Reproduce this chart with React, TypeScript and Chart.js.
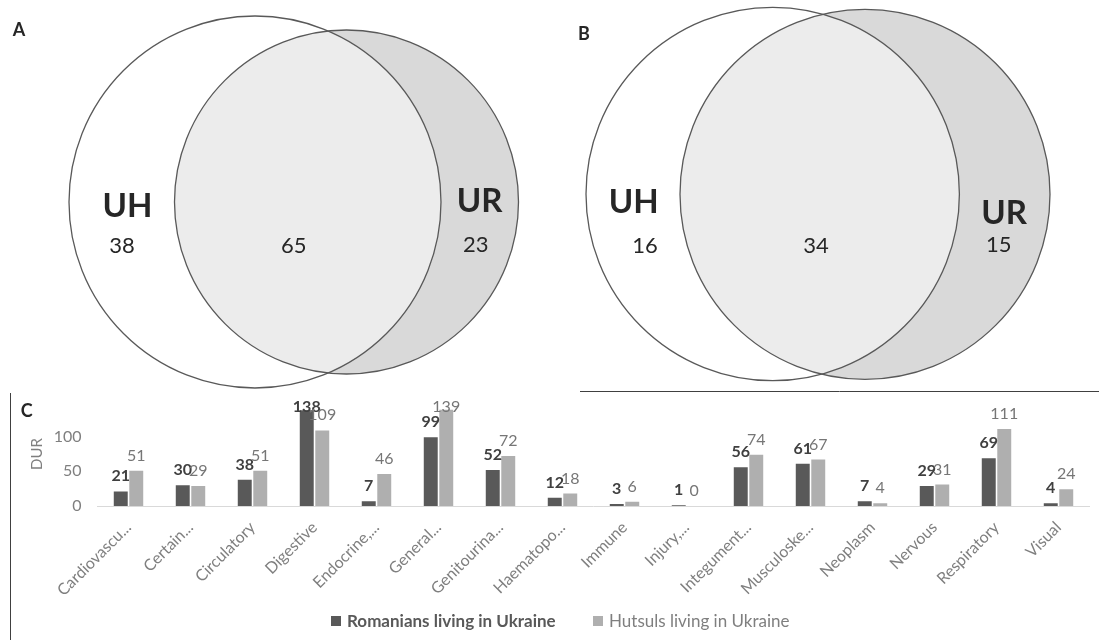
import React, { useEffect, useRef } from 'react';
import { Chart, registerables } from 'chart.js';

Chart.register(...registerables);

const FONT = 'Lato, "Open Sans", "DejaVu Sans", sans-serif';

// ---------- Panel C data ----------
const categories = [
  'Cardiovascu...', 'Certain...', 'Circulatory', 'Digestive', 'Endocrine,...', 'General...',
  'Genitourina...', 'Haematopo...', 'Immune', 'Injury,...', 'Integument...', 'Musculoske...',
  'Neoplasm', 'Nervous', 'Respiratory', 'Visual',
];
const seriesNames = ['Romanians living in Ukraine', 'Hutsuls living in Ukraine'];
const romaniansDUR = [21, 30, 38, 138, 7, 99, 52, 12, 3, 1, 56, 61, 7, 29, 69, 4];
const hutsulsDUR = [51, 29, 51, 109, 46, 139, 72, 18, 6, 0, 74, 67, 4, 31, 111, 24];
const yTickValues = [0, 50, 100];
const yAxisTitle = 'DUR';

// ---------- Panels A & B data ----------
const panelLetters = ['A', 'B', 'C'];
const setNames = ['UH', 'UR'];
const vennACounts = [38, 65, 23]; // UH only, shared, UR only
const vennBCounts = [16, 34, 15];
const vennCounts = [vennACounts, vennBCounts];

// ---------- layout (positions / sizes, not data) ----------
const W = 1099;
const VENN_H = 392;
const BAR_H = 640 - VENN_H;
const vennLayout = [
  {
    letter: { x: 19, y: 30 },
    uh: { x: 255, y: 202, r: 186 },
    ur: { x: 346.5, y: 202, r: 172 },
    nameUH: { x: 127.5, y: 205 },
    nameUR: { x: 479.7, y: 200 },
    counts: [{ x: 122, y: 244.7 }, { x: 293.7, y: 244.7 }, { x: 475.8, y: 244.5 }],
  },
  {
    letter: { x: 584, y: 34 },
    uh: { x: 772.7, y: 194, r: 186.7 },
    ur: { x: 865, y: 194.3, r: 185 },
    nameUH: { x: 633.8, y: 201 },
    nameUR: { x: 1004, y: 211.7 },
    counts: [{ x: 645, y: 244.7 }, { x: 816, y: 244.7 }, { x: 998.7, y: 244.5 }],
  },
];

const CAP = 0.72; // cap-height ratio for centring text

function capText(ctx: CanvasRenderingContext2D, text: string, x: number, cy: number, size: number, bold: boolean, color: string) {
  ctx.font = `${bold ? 'bold ' : ''}${size}px ${FONT}`;
  ctx.fillStyle = color;
  ctx.textAlign = 'center';
  ctx.textBaseline = 'alphabetic';
  ctx.fillText(text, x, cy + (size * CAP) / 2);
}

const vennOverlay = {
  id: 'vennOverlay',
  afterDatasetsDraw(chart: any) {
    const { ctx } = chart;
    const urMeta = chart.getDatasetMeta(0);
    const uhMeta = chart.getDatasetMeta(1);
    vennLayout.forEach((v, i) => {
      const ur = urMeta.data[i];
      const uh = uhMeta.data[i];
      const rUR = ur.options.radius;
      const rUH = uh.options.radius;
      // shared region
      ctx.save();
      ctx.beginPath();
      ctx.arc(uh.x, uh.y, rUH, 0, Math.PI * 2);
      ctx.clip();
      ctx.beginPath();
      ctx.arc(ur.x, ur.y, rUR, 0, Math.PI * 2);
      ctx.fillStyle = '#ececec';
      ctx.fill();
      ctx.restore();
      // outlines
      ctx.save();
      ctx.strokeStyle = '#595959';
      ctx.lineWidth = 1.3;
      ctx.beginPath();
      ctx.arc(uh.x, uh.y, rUH, 0, Math.PI * 2);
      ctx.stroke();
      ctx.beginPath();
      ctx.arc(ur.x, ur.y, rUR, 0, Math.PI * 2);
      ctx.stroke();
      // texts
      capText(ctx, panelLetters[i], v.letter.x, v.letter.y, 18, true, '#262626');
      capText(ctx, setNames[0], v.nameUH.x, v.nameUH.y, 33, true, '#262626');
      capText(ctx, setNames[1], v.nameUR.x, v.nameUR.y, 33, true, '#262626');
      vennCounts[i].forEach((c, k) => {
        capText(ctx, String(c), v.counts[k].x, v.counts[k].y, 22, false, '#262626');
      });
      ctx.restore();
    });
    // separator line under panel B
    ctx.save();
    ctx.strokeStyle = '#404040';
    ctx.lineWidth = 1;
    ctx.beginPath();
    ctx.moveTo(580, 391.5);
    ctx.lineTo(W, 391.5);
    ctx.stroke();
    ctx.restore();
  },
};

const barDecor = {
  id: 'barDecor',
  afterDatasetsDraw(chart: any) {
    const { ctx, chartArea } = chart;
    chart.data.datasets.forEach((ds: any, di: number) => {
      const meta = chart.getDatasetMeta(di);
      ctx.save();
      ctx.font = `${di === 0 ? 'bold ' : ''}16px ${FONT}`;
      ctx.fillStyle = di === 0 ? '#404040' : '#767676';
      ctx.textAlign = 'center';
      ctx.textBaseline = 'alphabetic';
      meta.data.forEach((bar: any, i: number) => {
        const yb = Math.max(bar.y - 10, chartArea.top + 10);
        ctx.fillText(String(ds.data[i]), bar.x, yb);
      });
      ctx.restore();
    });
  },
  afterDraw(chart: any) {
    const { ctx } = chart;
    ctx.save();
    // left border of panel C
    ctx.strokeStyle = '#404040';
    ctx.lineWidth = 1;
    ctx.beginPath();
    ctx.moveTo(10.5, 1);
    ctx.lineTo(10.5, BAR_H);
    ctx.stroke();
    capText(ctx, panelLetters[2], 26.7, 19, 18, true, '#262626');
    // legend
    const colors = chart.data.datasets.map((d: any) => d.backgroundColor);
    const items = [
      { x: 331, color: colors[0], text: seriesNames[0], bold: true, tc: '#595959' },
      { x: 593, color: colors[1], text: seriesNames[1], bold: false, tc: '#7f7f7f' },
    ];
    items.forEach((it) => {
      ctx.fillStyle = it.color;
      ctx.fillRect(it.x, 224, 10, 10);
      ctx.font = `${it.bold ? 'bold ' : ''}17px ${FONT}`;
      ctx.fillStyle = it.tc;
      ctx.textAlign = 'left';
      ctx.textBaseline = 'alphabetic';
      ctx.fillText(it.text, it.x + 16, 235);
    });
    ctx.restore();
  },
};

export default function App() {
  const vennRef = useRef<HTMLCanvasElement>(null);
  const barRef = useRef<HTMLCanvasElement>(null);

  useEffect(() => {
    const venn = new Chart(vennRef.current as HTMLCanvasElement, {
      type: 'bubble',
      data: {
        datasets: [
          {
            label: setNames[1],
            data: vennLayout.map((v) => ({ x: v.ur.x, y: v.ur.y, r: v.ur.r })),
            backgroundColor: '#d9d9d9',
            borderWidth: 0,
          },
          {
            label: setNames[0],
            data: vennLayout.map((v) => ({ x: v.uh.x, y: v.uh.y, r: v.uh.r })),
            backgroundColor: '#ffffff',
            borderWidth: 0,
          },
        ],
      },
      options: {
        animation: false,
        responsive: false,
        events: [],
        clip: false,
        layout: { padding: 0, autoPadding: false },
        plugins: { legend: { display: false }, tooltip: { enabled: false } },
        scales: {
          x: { type: 'linear', display: false, min: 0, max: W },
          y: { type: 'linear', display: false, min: 0, max: VENN_H, reverse: true },
        },
      } as any,
      plugins: [vennOverlay],
    });

    const bar = new Chart(barRef.current as HTMLCanvasElement, {
      type: 'bar',
      data: {
        labels: categories,
        datasets: [
          { label: seriesNames[0], data: romaniansDUR, backgroundColor: '#595959', categoryPercentage: 0.5, barPercentage: 0.9 },
          { label: seriesNames[1], data: hutsulsDUR, backgroundColor: '#afafaf', categoryPercentage: 0.5, barPercentage: 0.9 },
        ],
      },
      options: {
        animation: false,
        responsive: false,
        events: [],
        layout: { padding: { top: 10, right: 9.5, left: 0, bottom: 0 } },
        plugins: { legend: { display: false }, tooltip: { enabled: false } },
        scales: {
          x: {
            grid: { display: false, drawTicks: false },
            border: { display: true, color: '#d9d9d9', width: 1 },
            ticks: {
              color: '#7f7f7f',
              font: { family: FONT, size: 16 },
              maxRotation: 45,
              minRotation: 45,
              padding: 12,
              autoSkip: false,
            },
            afterFit: (s: any) => { s.height = 134; },
          },
          y: {
            min: 0,
            max: 150,
            grid: { display: false, drawTicks: false },
            border: { display: false },
            ticks: {
              stepSize: 50,
              color: '#7f7f7f',
              font: { family: FONT, size: 16 },
              padding: 16,
              callback: (v: any) => (yTickValues.includes(Number(v)) ? String(v) : ''),
            },
            title: {
              display: true,
              text: yAxisTitle,
              color: '#7f7f7f',
              font: { family: FONT, size: 15 },
              padding: { top: 28, bottom: 0 },
            },
            afterFit: (s: any) => {
              s.width = 97.5;
              s.paddingTop = 0;
              s.paddingBottom = 0;
            },
          },
        },
      } as any,
      plugins: [barDecor],
    });

    return () => {
      venn.destroy();
      bar.destroy();
    };
  }, []);

  return (
    <div style={{ position: 'absolute', left: 0, top: 0, width: W, height: 640, background: '#ffffff', overflow: 'hidden' }}>
      <canvas ref={vennRef} width={W} height={VENN_H} style={{ position: 'absolute', left: 0, top: 0, width: W, height: VENN_H }} />
      <canvas ref={barRef} width={W} height={BAR_H} style={{ position: 'absolute', left: 0, top: VENN_H, width: W, height: BAR_H }} />
    </div>
  );
}
